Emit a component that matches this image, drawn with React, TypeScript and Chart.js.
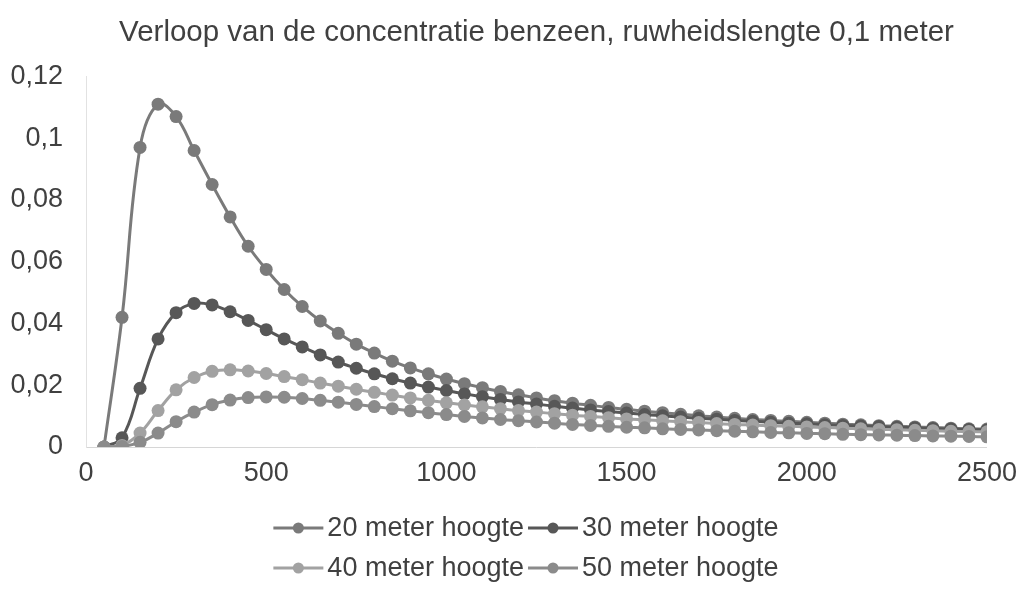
import React, { useEffect, useRef } from "react";
import { Chart, registerables } from "chart.js";

Chart.register(...registerables);

const titleText = "Verloop van de concentratie benzeen, ruwheidslengte 0,1 meter";

const distances = [
  50, 100, 150, 200, 250, 300, 350, 400, 450, 500,
  550, 600, 650, 700, 750, 800, 850, 900, 950, 1000,
  1050, 1100, 1150, 1200, 1250, 1300, 1350, 1400, 1450, 1500,
  1550, 1600, 1650, 1700, 1750, 1800, 1850, 1900, 1950, 2000,
  2050, 2100, 2150, 2200, 2250, 2300, 2350, 2400, 2450, 2500,
];

const conc20 = [
  0, 0.042, 0.097, 0.111, 0.107, 0.096, 0.085, 0.0745, 0.065, 0.0575,
  0.051, 0.0455, 0.0408, 0.0368, 0.0333, 0.0304, 0.0278, 0.0256, 0.0237, 0.022,
  0.0205, 0.0192, 0.018, 0.0169, 0.0159, 0.015, 0.0142, 0.0135, 0.0128, 0.0122,
  0.0116, 0.0111, 0.0106, 0.0101, 0.0097, 0.0093, 0.0089, 0.0086, 0.0083, 0.008,
  0.0077, 0.0074, 0.0072, 0.0069, 0.0067, 0.0065, 0.0063, 0.0061, 0.0059, 0.0058,
];

const conc30 = [
  0, 0.003, 0.019, 0.035, 0.0435, 0.0465, 0.046, 0.0438, 0.041, 0.038,
  0.035, 0.0324, 0.0298, 0.0275, 0.0255, 0.0237, 0.0221, 0.0207, 0.0194, 0.0183,
  0.0172, 0.0163, 0.0154, 0.0146, 0.0139, 0.0132, 0.0126, 0.012, 0.0115, 0.011,
  0.0105, 0.0101, 0.0097, 0.0093, 0.009, 0.0086, 0.0083, 0.008, 0.0077, 0.0075,
  0.0072, 0.007, 0.0068, 0.0066, 0.0064, 0.0062, 0.006, 0.0058, 0.0057, 0.0055,
];

const conc40 = [
  0, 0.0005, 0.0045, 0.0118, 0.0185, 0.0225, 0.0245, 0.025, 0.0246, 0.0238,
  0.0228, 0.0218, 0.0207, 0.0197, 0.0187, 0.0177, 0.0168, 0.0159, 0.0151, 0.0143,
  0.0136, 0.013, 0.0124, 0.0118, 0.0113, 0.0108, 0.0103, 0.0099, 0.0095, 0.0091,
  0.0088, 0.0085, 0.0082, 0.0079, 0.0076, 0.0073, 0.0071, 0.0069, 0.0067, 0.0065,
  0.0063, 0.0061, 0.0059, 0.0057, 0.0056, 0.0054, 0.0053, 0.0051, 0.005, 0.0049,
];

const conc50 = [
  0, 0.0002, 0.0015, 0.0045, 0.0082, 0.0113, 0.0137, 0.0152, 0.016, 0.0162,
  0.0161, 0.0157, 0.0151, 0.0145, 0.0138, 0.0131, 0.0124, 0.0117, 0.0111, 0.0105,
  0.0099, 0.0094, 0.0089, 0.0085, 0.0081, 0.0077, 0.0073, 0.007, 0.0067, 0.0064,
  0.0062, 0.0059, 0.0057, 0.0055, 0.0053, 0.0051, 0.0049, 0.0047, 0.0046, 0.0044,
  0.0043, 0.0041, 0.004, 0.0039, 0.0038, 0.0037, 0.0036, 0.0035, 0.0034, 0.0033,
];

const seriesLabels = ["20 meter hoogte", "30 meter hoogte", "40 meter hoogte", "50 meter hoogte"];
const seriesValues = [conc20, conc30, conc40, conc50];
const seriesColors = ["#7a7a7a", "#575757", "#a2a2a2", "#8b8b8b"];

const xMin = 0;
const xMax = 2500;
const xStep = 500;
const yMin = 0;
const yMax = 0.12;
const yStep = 0.02;

const FONT = '"Liberation Sans", Arial, Helvetica, sans-serif';
const TEXT_COLOR = "#404040";

const legendPlugin = {
  id: "lineDotLegend",
  afterDraw(chart: any) {
    const ctx = chart.ctx as CanvasRenderingContext2D;
    ctx.save();
    ctx.font = `27px ${FONT}`;
    ctx.textBaseline = "middle";
    ctx.textAlign = "left";
    const rows = [
      [0, 1],
      [2, 3],
    ];
    const rowY = [528, 568];
    const markerW = 50;
    const gap = 4;
    const centerX = 526;
    rows.forEach((row, r) => {
      const widths = row.map((i) => markerW + gap + ctx.measureText(seriesLabels[i]).width);
      const total = widths.reduce((a, b) => a + b, 0) + gap * (row.length - 1);
      let x = centerX - total / 2;
      const y = rowY[r];
      row.forEach((i, k) => {
        ctx.strokeStyle = seriesColors[i];
        ctx.lineWidth = 3;
        ctx.beginPath();
        ctx.moveTo(x, y);
        ctx.lineTo(x + markerW, y);
        ctx.stroke();
        ctx.fillStyle = seriesColors[i];
        ctx.beginPath();
        ctx.arc(x + markerW / 2, y, 5.5, 0, Math.PI * 2);
        ctx.fill();
        ctx.fillStyle = TEXT_COLOR;
        ctx.fillText(seriesLabels[i], x + markerW + gap, y + 1);
        x += widths[k] + gap;
      });
    });
    ctx.restore();
  },
};

function formatComma(v: number): string {
  return String(parseFloat(Number(v).toFixed(4))).replace(".", ",");
}

export default function App() {
  const canvasRef = useRef<HTMLCanvasElement | null>(null);

  useEffect(() => {
    const canvas = canvasRef.current;
    if (!canvas) return;
    const datasets = seriesLabels.map((label, i) => ({
      label,
      data: distances.map((d, j) => ({ x: d, y: seriesValues[i][j] })),
      borderColor: seriesColors[i],
      backgroundColor: seriesColors[i],
      pointBackgroundColor: seriesColors[i],
      pointBorderColor: seriesColors[i],
      pointRadius: 6.5,
      pointBorderWidth: 0,
      borderWidth: 3,
      tension: 0.4,
      fill: false,
      order: seriesLabels.length - 1 - i,
    }));

    const chart = new Chart(canvas, {
      type: "line",
      data: { datasets },
      options: {
        animation: false,
        responsive: false,
        maintainAspectRatio: false,
        layout: { padding: { left: 0, right: 27, top: 0, bottom: 0 } },
        plugins: {
          legend: { display: false },
          tooltip: { enabled: false },
          title: {
            display: true,
            fullSize: false,
            text: titleText,
            color: TEXT_COLOR,
            font: { family: FONT, size: 29.5, weight: "normal" },
            padding: { top: 15, bottom: 26 },
          },
        },
        scales: {
          x: {
            type: "linear",
            min: xMin,
            max: xMax,
            grid: { display: false, drawTicks: false },
            border: { display: true, color: "#d6d6d6", width: 1, dash: [2, 2] },
            ticks: {
              stepSize: xStep,
              color: TEXT_COLOR,
              font: { family: FONT, size: 27 },
              padding: 10,
              maxRotation: 0,
              autoSkip: false,
              callback: (v: any) => String(v),
            },
            afterFit(scale: any) {
              scale.height = 144;
            },
          },
          y: {
            type: "linear",
            min: yMin,
            max: yMax,
            grid: { display: false, drawTicks: false },
            border: { display: true, color: "#e2e2e2", width: 1, dash: [2, 2] },
            ticks: {
              stepSize: yStep,
              color: TEXT_COLOR,
              font: { family: FONT, size: 27 },
              padding: 23,
              callback: (v: any) => formatComma(v as number),
            },
            afterFit(scale: any) {
              scale.width = 86;
            },
          },
        },
      },
      plugins: [legendPlugin],
    });
    return () => chart.destroy();
  }, []);

  return (
    <div style={{ position: "fixed", left: 0, top: 0, width: 1027, height: 591, background: "#ffffff" }}>
      <canvas ref={canvasRef} width={1027} height={591} style={{ width: 1027, height: 591, display: "block" }} />
    </div>
  );
}
